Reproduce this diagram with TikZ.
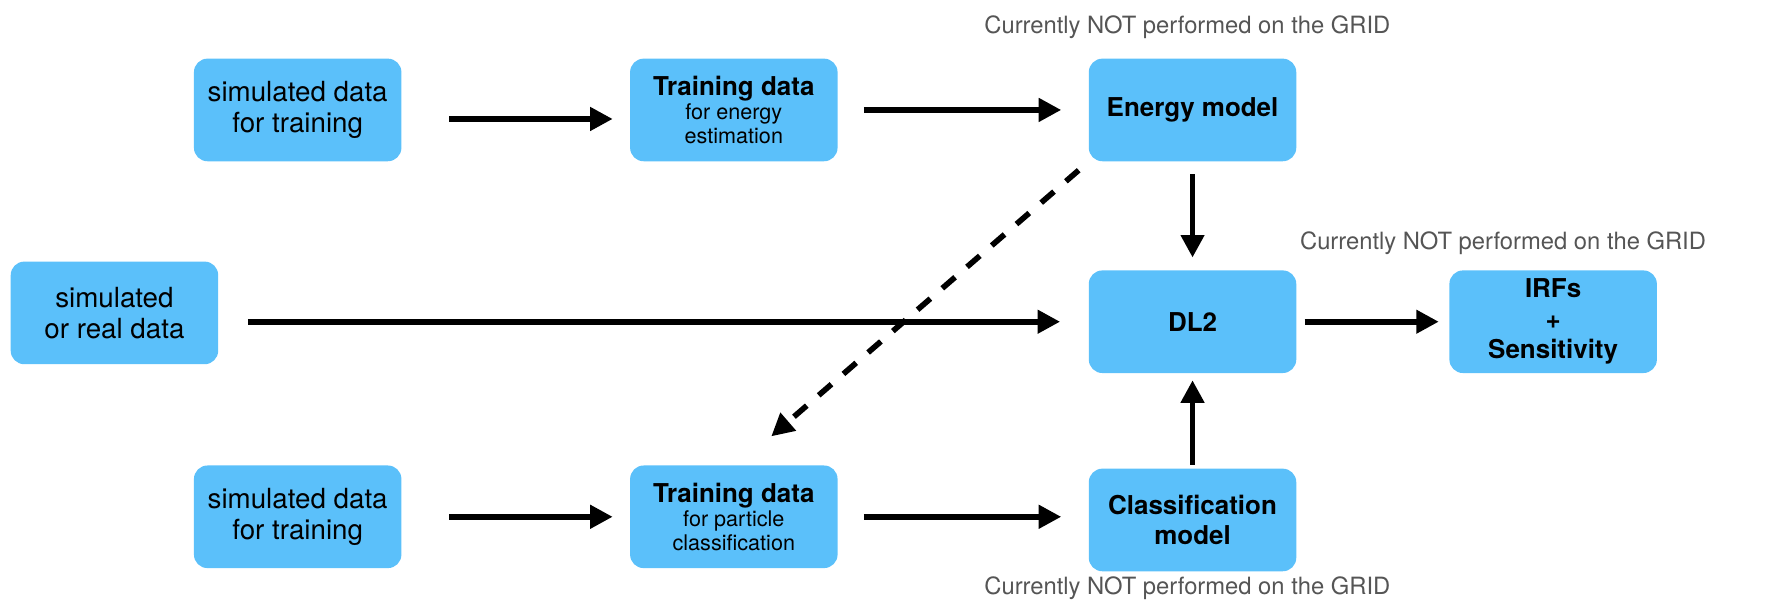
\documentclass[tikz,border=0pt]{standalone}
\usepackage{fontspec}
\setmainfont{TeX Gyre Heros}
\usetikzlibrary{positioning,arrows.meta}
\definecolor{boxblue}{RGB}{91,192,250}
\definecolor{notegray}{RGB}{85,85,85}
\newcommand{\subline}[1]{{\fontsize{5.45}{6.1}\selectfont #1}}
\newcommand{\ttl}[1]{{\fontsize{6.55}{7.4}\selectfont\bfseries #1}}
\begin{document}
\begin{tikzpicture}[node distance={2cm}, thick,
		box/.style = {fill=boxblue, rounded corners=0.12cm, minimum width=1.84cm, minimum height=0.91cm, inner sep=0pt, align=center, font=\fontsize{7}{7.7}\selectfont},
		trainbox/.style = {box, font=\fontsize{7}{6}\selectfont},
		arr/.style = {-{Triangle[length=0.2cm,width=0.2cm]}, line width=0.05cm},
		note/.style = {text=notegray, font=\fontsize{6}{7}\selectfont}]
		
		\useasboundingbox (0,0) rectangle (15.68,-5.463);
		
		\node[box] (sim1) at (2.64,-0.975) {simulated data\\for training};
		\node[trainbox] (trainE) [right=of sim1] {\ttl{Training data}\\\subline{for energy}\\\subline{estimation}};
		\node[box] (energy) [right=2.2cm of trainE] {\ttl{Energy model}};
		\node[box] (dl2) [below=0.94cm of energy] {\ttl{DL2}};
		\node[box] (irfs) [right=1.33cm of dl2] {\ttl{IRFs}\\\ttl{+}\\\ttl{Sensitivity}};
		\node[box] (class) [below=0.82cm of dl2] {\ttl{Classification}\\\ttl{model}};
		\node[box] (raw) at (1.015,-2.775) {simulated\\or real data};
		\node[box] (sim2) [below=2.67cm of sim1] {simulated data\\for training};
		\node[trainbox] (trainC) [right=of sim2] {\ttl{Training data}\\\subline{for particle}\\\subline{classification}};
		
		\coordinate (tip) at (6.84,-3.87);
		
		\draw[arr, shorten <=0.41cm, shorten >=0.14cm] ([yshift=-0.08cm]sim1.east) -- ([yshift=-0.08cm]sim1.east -| trainE.west);
		\draw[arr, shorten <=0.22cm, shorten >=0.23cm] (trainE) -- (energy);
		\draw[arr, shorten <=0.1cm, shorten >=0.1cm] (energy) -- (dl2);
		\draw[arr, shorten <=0.25cm, shorten >=0.24cm] (raw.east |- dl2.west) -- (dl2.west);
		\draw[arr, shorten <=0.06cm, shorten >=0.08cm] (dl2) -- (irfs);
		\draw[arr, shorten <=0.02cm, shorten >=0.05cm] (class) -- (dl2);
		\draw[arr, shorten <=0.41cm, shorten >=0.14cm] (sim2) -- (trainC);
		\draw[arr, shorten <=0.22cm, shorten >=0.23cm] (trainC) -- (trainC -| class.west);
		\draw[arr, dash pattern=on 0.15cm off 0.14cm, shorten <=0.1cm] (energy.south west) -- (tip);
		
		\node[note] (n1) at (10.53,-0.24) {Currently NOT performed on the GRID};
		\node[note] (n2) at (13.33,-2.16) {Currently NOT performed on the GRID};
		\node[note] (n3) at (10.53,-5.22) {Currently NOT performed on the GRID};
	\end{tikzpicture}
\end{document}
